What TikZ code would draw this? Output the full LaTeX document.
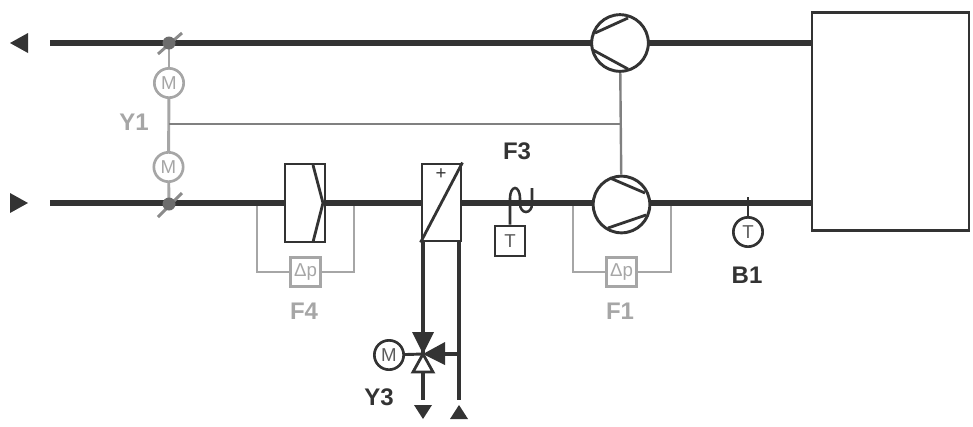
\documentclass[tikz,border=0pt]{standalone}
\usepackage{fontspec}
\setmainfont{Liberation Sans}
\definecolor{dk}{HTML}{333333}
\definecolor{gr}{HTML}{A6A6A6}
\definecolor{mg}{HTML}{808080}
\tikzset{
  duct/.style={draw=dk,line width=4.4pt},
  pipe/.style={draw=dk,line width=2.8pt},
  thin dark/.style={draw=dk,line width=2.1pt},
  grline/.style={draw=gr,line width=2.2pt},
  link/.style={draw=mg,line width=1.8pt},
  rnd/.style={circle,inner sep=0pt,minimum size=22pt,fill=white,font=\fontsize{14}{14}\selectfont},
  grnd/.style={rnd,draw=gr,line width=2pt,text=gr},
  drnd/.style={rnd,draw=dk,line width=2pt,text=dk!80},
  fanbody/.style={circle,inner sep=0pt,minimum size=42.5pt,fill=white,draw=dk,line width=2.2pt},
  dpbox/.style={rectangle,inner sep=0pt,minimum width=23pt,minimum height=22pt,fill=white,draw=gr,line width=2.2pt,text=gr,font=\fontsize{14}{14}\selectfont},
  tbox/.style={rectangle,inner sep=0pt,minimum width=22.5pt,minimum height=22.5pt,fill=white,draw=dk,line width=2.2pt,text=dk!80,font=\fontsize{14}{14}\selectfont},
  equip/.style={rectangle,inner sep=0pt,fill=white,draw=dk,line width=2.2pt},
  lab/.style={font=\bfseries\fontsize{18}{18}\selectfont,text=dk},
  glab/.style={font=\bfseries\fontsize{18}{18}\selectfont,text=gr},
}
\begin{document}
\begin{tikzpicture}[x=0.75pt,y=-0.75pt]
\useasboundingbox (0,0) rectangle (973,426);
% coordinates
\coordinate (topL) at (50,43);
\coordinate (botL) at (50,203);
\coordinate (topR) at (812,43);
\coordinate (botR) at (812,203);
\coordinate (dmpA) at (169,43);
\coordinate (dmpB) at (169,204);
\coordinate (jY) at (169,124);
\coordinate (jF) at (621,124);
\coordinate (fFL) at (257,203);
\coordinate (fFR) at (354,203);
\coordinate (fAL) at (573,203);
\coordinate (fAR) at (671,203);
\coordinate (vc) at (423,354);
\coordinate (retEnd) at (459,400);
\coordinate (supEnd) at (423,400);
\coordinate (retJ) at (459,354);
\coordinate (b1top) at (748,197);
% grey branches under the ducts
\node[dpbox] (dpF) at (305.5,272) {Δp};
\draw[grline] (fFL) |- (dpF);
\draw[grline] (fFR) |- (dpF);
\node[glab] (f4) at (304,311) {F4};
\node[dpbox] (dpA) at (621.5,272) {Δp};
\draw[grline] (fAL) |- (dpA);
\draw[grline] (fAR) |- (dpA);
\node[glab] (f1) at (620,311) {F1};
% ducts
\draw[duct] (topL) -- (topR);
\draw[duct] (botL) -- (botR);
% end triangles
\fill[dk] (10,43) -- (28,33) -- (28,53) -- cycle;
\fill[dk] (28,203) -- (10,193) -- (10,213) -- cycle;
\fill[dk] (423,419) -- (414,405) -- (432,405) -- cycle;
\fill[dk] (459,405) -- (450,419) -- (468,419) -- cycle;
% equipment
\node[equip,minimum width=117.75pt,minimum height=164pt] (box) at (890.5,121.5) {};
\node[fanbody] (fanT) at (620,43) {};
\node[fanbody] (fanB) at (621.5,204.5) {};
\draw[link] (fanT) -- (fanB);
\draw[thin dark] (595,33) -- (628,18) (593,50) -- (628,69);
\draw[thin dark] (610,178) -- (645,193) (608,228) -- (646,215);
\node[equip,minimum width=30pt,minimum height=58.5pt] (filter) at (305,203) {};
\draw[thin dark] (313,165) -- (323,203) -- (313,242);
\node[equip,minimum width=29.25pt,minimum height=57.75pt] (heat) at (441.5,202.5) {};
\draw[thin dark] (heat.north east) -- (heat.south west);
\node[font=\fontsize{14}{14}\selectfont,text=dk] (plus) at (441,174.5) {+};
% Y1
\node[grnd] (mA) at (169,83) {M};
\node[grnd] (mB) at (168.5,167) {M};
\draw[grline] (dmpA) -- (mA);
\draw[grline] (mA) -- (mB);
\draw[grline] (mB) -- (dmpB);
\draw[grline,draw=mg!70!gr] (158,54) -- (182,33);
\draw[grline,draw=mg!70!gr] (158,217) -- (182,193);
\fill[mg!85!black] (dmpA) circle (6.5);
\fill[mg!85!black] (dmpB) circle (6.5);
\draw[link] (jY) -- (jF);
\node[glab] (y1) at (134,122) {Y1};
% F3
\node[tbox] (tF) at (510,241) {T};
\draw[thin dark,line width=1.9pt] (tF.north) -- (510,198) arc[start angle=180,end angle=360,x radius=5,y radius=10] -- (520,204) arc[start angle=180,end angle=0,x radius=6,y radius=8] -- (532,188);
\node[lab] (f3) at (517,151) {F3};
% B1
\node[drnd] (tB) at (748,232) {T};
\draw[thin dark] (b1top) -- (tB);
\node[lab] (b1) at (747,275) {B1};
% hydraulics
\draw[pipe] (heat.south west -| vc) -- (vc);
\draw[pipe] (heat.south east -| retJ) -- (retEnd);
\draw[pipe] (423,372) -- (supEnd);
\draw[pipe] (445,354) -- (retJ);
\node[drnd] (mV) at (389,355) {M};
\draw[pipe,line width=2.2pt] (mV) -- (vc);
\fill[dk] (vc) -- (412,332) -- (434,332) -- cycle;
\fill[dk] (vc) -- (445,342) -- (445,365) -- cycle;
\draw[thin dark,fill=white] (vc) -- (413,372) -- (433,372) -- cycle;
\node[lab] (y3) at (379,397) {Y3};
\end{tikzpicture}
\end{document}
